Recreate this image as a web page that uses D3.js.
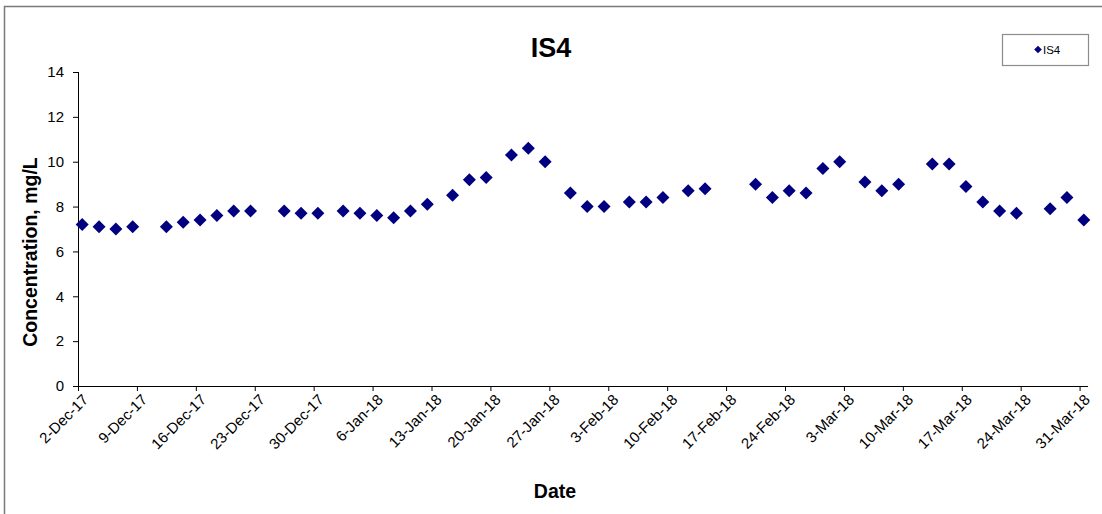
<!DOCTYPE html>
<html>
<head>
<meta charset="utf-8">
<script src="https://cdn.jsdelivr.net/npm/d3@7"></script>
<style>
  html, body { margin: 0; padding: 0; background: #fff; }
  svg { display: block; font-family: "Liberation Sans", Arial, sans-serif; }
</style>
</head>
<body>
<svg id="chart" width="1102" height="514"></svg>
<script>
// Sampling dates and measured concentrations (mg/L) for IS4
const sampleDates = [
  "2017-12-02", "2017-12-04", "2017-12-06", "2017-12-08", "2017-12-12",
  "2017-12-14", "2017-12-16", "2017-12-18", "2017-12-20", "2017-12-22",
  "2017-12-26", "2017-12-28", "2017-12-30", "2018-01-02", "2018-01-04",
  "2018-01-06", "2018-01-08", "2018-01-10", "2018-01-12", "2018-01-15",
  "2018-01-17", "2018-01-19", "2018-01-22", "2018-01-24", "2018-01-26",
  "2018-01-29", "2018-01-31", "2018-02-02", "2018-02-05", "2018-02-07",
  "2018-02-09", "2018-02-12", "2018-02-14", "2018-02-20", "2018-02-22",
  "2018-02-24", "2018-02-26", "2018-02-28", "2018-03-02", "2018-03-05",
  "2018-03-07", "2018-03-09", "2018-03-13", "2018-03-15", "2018-03-17",
  "2018-03-19", "2018-03-21", "2018-03-23", "2018-03-27", "2018-03-29",
  "2018-03-31"
];
const is4Values = [
  7.2, 7.1, 7.0, 7.1, 7.1,
  7.3, 7.4, 7.6, 7.8, 7.8,
  7.8, 7.7, 7.7, 7.8, 7.7,
  7.6, 7.5, 7.8, 8.1, 8.5,
  9.2, 9.3, 10.3, 10.6, 10.0,
  8.6, 8.0, 8.0, 8.2, 8.2,
  8.4, 8.7, 8.8, 9.0, 8.4,
  8.7, 8.6, 9.7, 10.0, 9.1,
  8.7, 9.0, 9.9, 9.9, 8.9,
  8.2, 7.8, 7.7, 7.9, 8.4,
  7.4
];
// Axis settings
const axisStart = "2017-12-02";
const axisEnd = "2018-04-01";
const tickStepDays = 7;
const yTicks = [0, 2, 4, 6, 8, 10, 12, 14];
const seriesName = "IS4";
const chartTitle = "IS4";
const xTitle = "Date";
const yTitle = "Concentration, mg/L";

const parse = d3.utcParse("%Y-%m-%d");
const fmt = d3.utcFormat("%-d-%b-%y");
const points = sampleDates.map((d, i) => ({ date: parse(d), value: is4Values[i] }));

const svg = d3.select("#chart");
const plot = { left: 78, right: 1088, top: 72, bottom: 386 };
const navy = "#000080";

// Outer chart frame (left and top edges)
svg.append("path")
  .attr("d", "M4.5,514 V6.5 H1102")
  .attr("fill", "none")
  .attr("stroke", "#7a7a7a")
  .attr("stroke-width", 1.5);

const x = d3.scaleUtc()
  .domain([parse(axisStart), parse(axisEnd)])
  .range([plot.left, plot.right]);
const y = d3.scaleLinear()
  .domain([0, 14])
  .range([plot.bottom, plot.top]);

// Weekly tick dates from the first axis date
const tickDates = d3.utcDay.range(parse(axisStart), parse(axisEnd), tickStepDays);

// Y axis
const yAxis = svg.append("g")
  .attr("transform", `translate(${plot.left},0)`)
  .call(d3.axisLeft(y).tickValues(yTicks).tickSize(5).tickPadding(9).tickFormat(d3.format("d")));
yAxis.select(".domain").attr("d", `M0.5,${plot.top}V${plot.bottom}`).attr("stroke", "#000");
yAxis.selectAll(".tick line").attr("stroke", "#000").attr("x1", 0.5);
yAxis.selectAll(".tick text")
  .attr("font-size", 15)
  .attr("fill", "#000")
  .attr("font-family", "Liberation Sans, Arial, sans-serif");

// X axis
const xAxis = svg.append("g")
  .attr("transform", `translate(0,${plot.bottom})`)
  .call(d3.axisBottom(x).tickValues(tickDates).tickSize(5).tickFormat(fmt));
xAxis.select(".domain").attr("d", `M${plot.left},0.5H${plot.right}`).attr("stroke", "#000");
xAxis.selectAll(".tick line").attr("stroke", "#000");
xAxis.selectAll(".tick text")
  .attr("font-size", 15)
  .attr("fill", "#000")
  .attr("font-family", "Liberation Sans, Arial, sans-serif")
  .attr("text-anchor", "end")
  .attr("y", 0)
  .attr("dy", "0.35em")
  .attr("transform", "translate(7,11) rotate(-45)");

// Diamond markers, centred within each day
const halfDay = 12 * 3600 * 1000;
const diamond = (r) => `M0,${-r}L${r},0L0,${r}L${-r},0Z`;
svg.append("g")
  .selectAll("path")
  .data(points)
  .join("path")
  .attr("d", diamond(6.5))
  .attr("transform", d => `translate(${x(new Date(d.date.getTime() + halfDay))},${y(d.value)})`)
  .attr("fill", navy);

// Chart title
svg.append("text")
  .attr("x", 551)
  .attr("y", 57)
  .attr("text-anchor", "middle")
  .attr("font-size", 27)
  .attr("font-weight", "bold")
  .attr("fill", "#000")
  .text(chartTitle);

// Axis titles
svg.append("text")
  .attr("x", 555)
  .attr("y", 498)
  .attr("text-anchor", "middle")
  .attr("font-size", 19.5)
  .attr("font-weight", "bold")
  .attr("fill", "#000")
  .text(xTitle);

svg.append("text")
  .attr("transform", "translate(37,252) rotate(-90)")
  .attr("text-anchor", "middle")
  .attr("font-size", 19.5)
  .attr("font-weight", "bold")
  .attr("fill", "#000")
  .text(yTitle);

// Legend
const legend = svg.append("g");
legend.append("rect")
  .attr("x", 1002.5).attr("y", 34.5)
  .attr("width", 86).attr("height", 31)
  .attr("fill", "#fff")
  .attr("stroke", "#8c8c8c")
  .attr("stroke-width", 1.2);
legend.append("path")
  .attr("d", diamond(3.8))
  .attr("transform", "translate(1038,49.5)")
  .attr("fill", navy);
legend.append("text")
  .attr("x", 1043)
  .attr("y", 53.5)
  .attr("font-size", 11.5)
  .attr("fill", "#000")
  .text(seriesName);
</script>
</body>
</html>
